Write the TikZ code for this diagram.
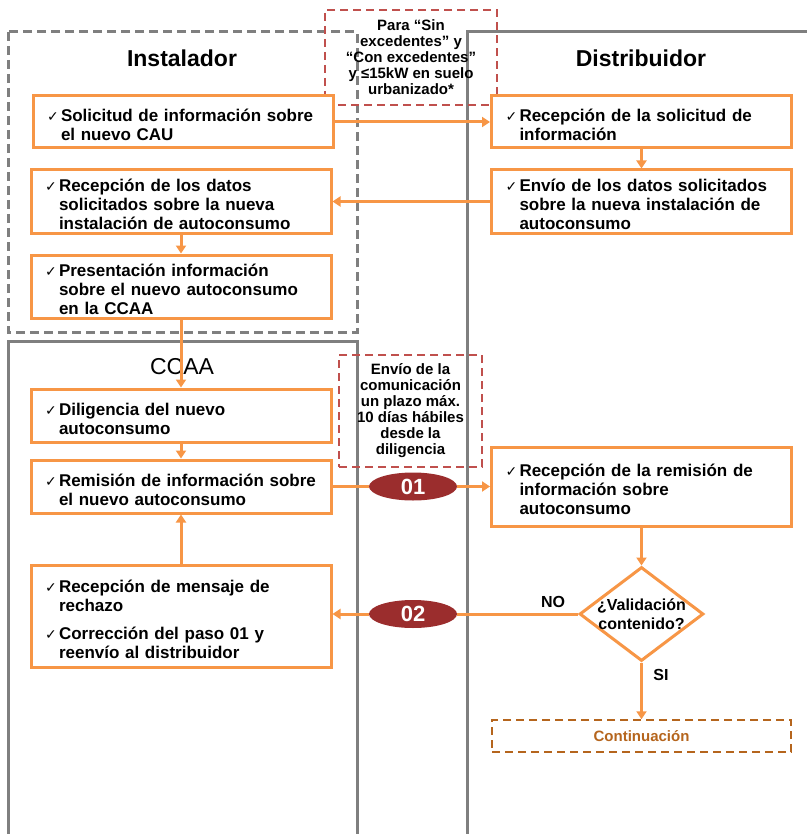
\documentclass[tikz,border=0pt]{standalone}
\usepackage{fontspec}
\setmainfont{Liberation Sans}
\newfontfamily\symbfont{DejaVu Sans}
\usetikzlibrary{shapes.geometric,arrows.meta}
\definecolor{naranja}{HTML}{F79646}
\definecolor{gris}{HTML}{7F7F7F}
\definecolor{rojonota}{HTML}{C0504D}
\definecolor{granate}{HTML}{9B2D2D}
\definecolor{marron}{HTML}{B5651D}
% item with check mark, following lines under the text
\newcommand{\chk}[1]{\par\noindent\makebox[14pt][l]{\symbfont\fontsize{14}{14}\selectfont ✓}\parbox[t]{\dimexpr\linewidth-14pt}{\raggedright #1}}
\begin{document}
\begin{tikzpicture}[x=1pt,y=-1pt,
	paso/.style={draw=naranja,line width=3pt,fill=white,text width=272pt,inner xsep=14pt,inner ysep=0pt,align=left,font=\bfseries\fontsize{17}{19}\selectfont},
	titulo/.style={font=\bfseries\fontsize{23}{24}\selectfont},
	carril/.style={draw=gris,line width=3pt},
	nota/.style={draw=rojonota,line width=1.5pt,dash pattern=on 8pt off 5pt,align=center,inner sep=0pt,font=\bfseries\fontsize{15}{16}\selectfont},
	flecha/.style={draw=naranja,line width=3pt,-{Triangle[length=8pt,width=10pt]}},
	linea/.style={draw=naranja,line width=3pt},
	paso num/.style={ellipse,fill=granate,text=white,minimum width=88pt,minimum height=28pt,inner sep=0pt,font=\bfseries\fontsize{22}{22}\selectfont},
	etiq/.style={font=\bfseries\fontsize{16}{16}\selectfont}]
	\useasboundingbox (0,0) rectangle (806,834);
	% Draw the lanes
	\draw[carril,dash pattern=on 9pt off 5pt] (8,32) rectangle (357,332);
	\draw[carril] (467,840) -- (467,32) -- (812,32);
	\draw[carril] (8,840) -- (8,341) -- (357,341) -- (357,840);
	% Lane titles
	\node[titulo] (tinst) at (182,58) {Instalador};
	\node[titulo] (tdist) at (641,58) {Distribuidor};
	\node[font=\fontsize{23}{23}\selectfont] (tccaa) at (182,367) {CCAA};
	% Notes
	\node[nota,minimum width=172pt,minimum height=95pt] (nota1) at (411,57.5) {Para “Sin\\excedentes” y\\“Con excedentes”\\y ≤15kW en suelo\\urbanizado*};
	\node[nota,minimum width=143pt,minimum height=112pt] (nota2) at (410.5,411) {Envío de la\\comunicación\\un plazo máx.\\10 días hábiles\\desde la\\diligencia};
	% Instalador steps
	\node[paso,minimum height=52pt] (inst1) at (183,122) {\chk{Solicitud de información sobre\\el nuevo CAU}};
	\node[paso,minimum height=63pt] (inst2) at (181,201.5) {\chk{Recepción de los datos\\solicitados sobre la nueva\\instalación de autoconsumo}};
	\node[paso,minimum height=63pt] (inst3) at (181,286.5) {\chk{Presentación información\\sobre el nuevo autoconsumo\\en la CCAA}};
	% Distribuidor steps
	\node[paso,minimum height=52pt] (dist1) at (641.5,122) {\chk{Recepción de la solicitud de\\información}};
	\node[paso,minimum height=63pt] (dist2) at (641.5,201.5) {\chk{Envío de los datos solicitados\\sobre la nueva instalación de\\autoconsumo}};
	\node[paso,minimum height=79pt] (dist3) at (641.5,486.5) {\chk{Recepción de la remisión de\\información sobre\\autoconsumo}};
	% CCAA steps
	\node[paso,minimum height=53pt] (ccaa1) at (181,415.5) {\chk{Diligencia del nuevo\\autoconsumo}};
	\node[paso,minimum height=53pt] (ccaa2) at (181,486.5) {\chk{Remisión de información sobre\\el nuevo autoconsumo}};
	\node[paso,minimum height=102pt] (ccaa3) at (181,616) {\chk{Recepción de mensaje de\\rechazo}\par\vspace{15pt}\chk{Corrección del paso 01 y\\reenvío al distribuidor}};
	% Decision and end
	\node[diamond,draw=naranja,line width=3pt,fill=white,minimum width=124pt,minimum height=94pt,inner sep=0pt,
		label={[align=center,font=\bfseries\fontsize{16}{19}\selectfont]center:¿Validación\\contenido?}] (valid) at (641.5,614) {};
	\node[draw=marron,line width=1.5pt,dash pattern=on 8pt off 5pt,minimum width=299pt,minimum height=32pt,text=marron,font=\bfseries\fontsize{15}{15}\selectfont] (cont) at (641.5,736) {Continuación};
	% Numbered messages
	\node[paso num] (num1) at (413,486.5) {01};
	\node[paso num] (num2) at (413,614) {02};
	% Draw the connectors
	\draw[flecha] (inst1.east) -- (dist1.west);
	\draw[flecha] (dist1.south) -- (dist2.north);
	\draw[flecha] (dist2.west) -- (inst2.east);
	\draw[flecha] (inst2.south) -- (inst3.north);
	\draw[flecha] (inst3.south) -- (ccaa1.north);
	\draw[flecha] (ccaa1.south) -- (ccaa2.north);
	\draw[linea] (ccaa2.east) -- (num1.west);
	\draw[flecha] (num1.east) -- (dist3.west);
	\draw[flecha] (dist3.south) -- (valid.north);
	\draw[linea] (valid.west) -- (num2.east);
	\draw[flecha] (num2.west) -- (num2.west -| ccaa3.east);
	\draw[flecha] (ccaa3.north) -- (ccaa2.south);
	\draw[flecha] (valid.south) -- (cont.north);
	% Labels
	\node[etiq] (no) at (553,602) {NO};
	\node[etiq] (si) at (661,675) {SI};
\end{tikzpicture}
\end{document}
